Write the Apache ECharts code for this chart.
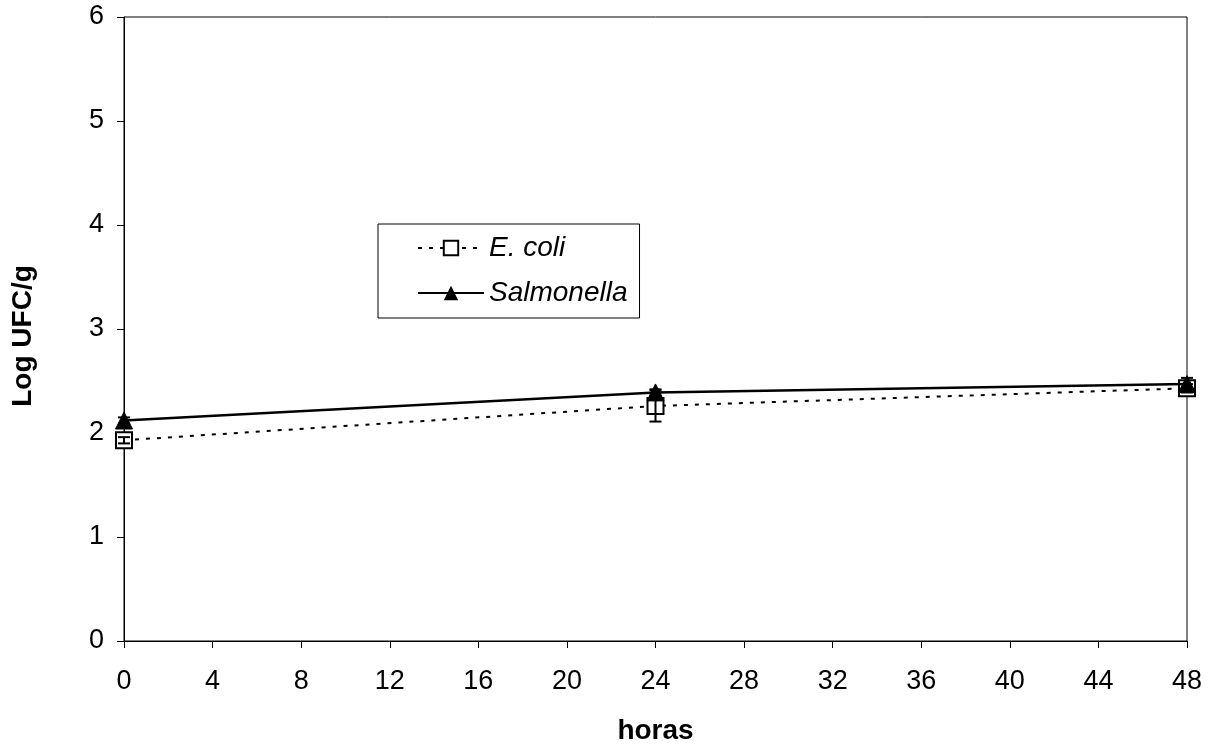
<!DOCTYPE html>
<html><head><meta charset="utf-8">
<script src="https://cdn.jsdelivr.net/npm/echarts@6/dist/echarts.min.js"></script>
<style>html,body{margin:0;padding:0;background:#fff}#c{width:1211px;height:746px}</style>
</head><body><div id="c"></div>
<script>
const hours = [0, 24, 48];
const ecoli = [1.93, 2.26, 2.43];
const ecoliErr = [0.03, 0.15, 0.04];
const salmonella = [2.12, 2.39, 2.47];
const salmonellaErr = [0.03, 0.03, 0.06];
const xTicks = [0, 4, 8, 12, 16, 20, 24, 28, 32, 36, 40, 44, 48];
const yTicks = [0, 1, 2, 3, 4, 5, 6];

function errData(vals, errs){ return hours.map((h,i)=>[h, vals[i]-errs[i], vals[i]+errs[i]]); }
function errRender(params, api){
  const x = api.value(0), lo = api.value(1), hi = api.value(2);
  const p1 = api.coord([x, lo]), p2 = api.coord([x, hi]);
  const w = 6;
  return {type:'group', children:[
    {type:'line', shape:{x1:p1[0],y1:p1[1],x2:p2[0],y2:p2[1]}, style:{stroke:'#000',lineWidth:2}},
    {type:'line', shape:{x1:p1[0]-w,y1:p1[1],x2:p1[0]+w,y2:p1[1]}, style:{stroke:'#000',lineWidth:2}},
    {type:'line', shape:{x1:p2[0]-w,y1:p2[1],x2:p2[0]+w,y2:p2[1]}, style:{stroke:'#000',lineWidth:2}}
  ]};
}
const font = 'Liberation Sans, Arial, sans-serif';
const chart = echarts.init(document.getElementById('c'));
chart.setOption({
  animation:false,
  grid:{left:124, right:24, top:17, bottom:105, show:true, borderColor:'#000', borderWidth:1,
    containLabel:false, outerBoundsMode:'none'},
  xAxis:{type:'value', min:0, max:48, interval:4,
    name:'horas', nameLocation:'middle', nameGap:76,
    nameTextStyle:{fontFamily:font, fontSize:28, fontWeight:'bold', color:'#000'},
    axisLine:{lineStyle:{color:'#000', width:1}}, axisTick:{show:true, length:7, lineStyle:{color:'#000'}},
    axisLabel:{fontFamily:font, fontSize:27, color:'#000', margin:27, formatter: v => xTicks.includes(v) ? String(v) : ''},
    splitLine:{show:false}},
  yAxis:{type:'value', min:0, max:6, interval:1,
    name:'Log UFC/g', nameLocation:'middle', nameGap:87,
    nameTextStyle:{fontFamily:font, fontSize:28, fontWeight:'bold', color:'#000', padding:[0,14,0,0]},
    axisLine:{show:true, lineStyle:{color:'#000', width:1}}, axisTick:{show:true, length:7, lineStyle:{color:'#000'}},
    axisLabel:{fontFamily:font, fontSize:27, color:'#000', margin:20, formatter: v => yTicks.includes(v) ? String(v) : ''},
    splitLine:{show:false}},
  legend:{left:378, top:224, orient:'vertical', padding:[10,12,11,39], itemGap:17,
    borderColor:'#000', borderWidth:1, backgroundColor:'#fff', itemWidth:66, itemHeight:18,
    textStyle:{fontFamily:font, fontSize:28, fontStyle:'italic', color:'#000'},
    data:['E. coli','Salmonella']},
  series:[
    {name:'E. coli', type:'line', data:hours.map((h,i)=>[h, ecoli[i]]),
      symbol:'rect', symbolSize:16, z:3,
      lineStyle:{color:'#000', width:2, type:[4,7]},
      itemStyle:{color:'#fff', borderColor:'#000', borderWidth:2}},
    {name:'Salmonella', type:'line', data:hours.map((h,i)=>[h, salmonella[i]]),
      symbol:'triangle', symbolSize:17, z:4,
      lineStyle:{color:'#000', width:2.5, type:'solid'},
      itemStyle:{color:'#000', borderColor:'#000'}},
    {type:'custom', renderItem:errRender, data:errData(ecoli, ecoliErr), z:5, silent:true},
    {type:'custom', renderItem:errRender, data:errData(salmonella, salmonellaErr), z:5, silent:true}
  ]
});
</script></body></html>
